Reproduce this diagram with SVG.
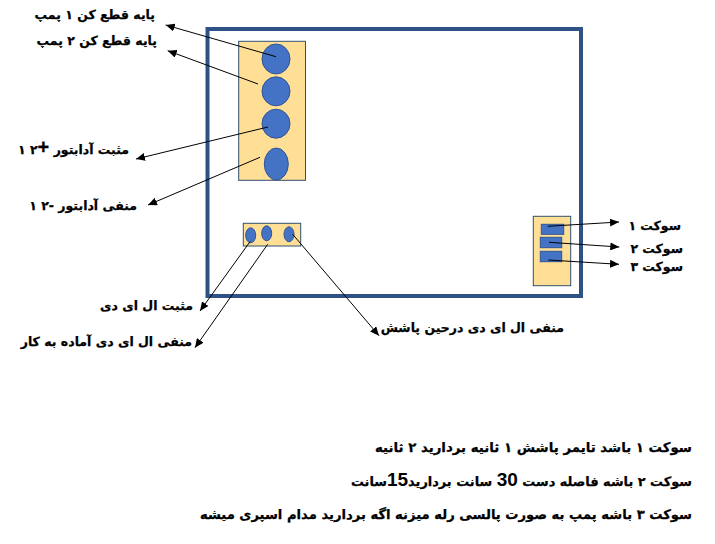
<svg xmlns="http://www.w3.org/2000/svg" width="715" height="544" viewBox="0 0 715 544">
<style>
.p{fill:#ffdf95;stroke:#2f5070;stroke-width:1}
.d{fill:#4472c4;stroke:#2f5597;stroke-width:1}
.c{fill:none;stroke:#000;stroke-width:1;marker-end:url(#a)}
text{font-family:"DejaVu Sans","Liberation Sans",sans-serif;font-weight:700;font-size:12.5px;fill:#000;stroke:#000;stroke-width:.25;direction:rtl;text-anchor:start}
.n{font-family:"Liberation Sans",sans-serif;font-size:19px;stroke:none}
.s{font-family:"Liberation Sans",sans-serif;font-size:20px}
</style>
<defs><marker id="a" markerUnits="userSpaceOnUse" markerWidth="10" markerHeight="8" refX="9" refY="4" orient="auto"><path d="M0 0L9 4L0 8z" fill="#000"/></marker></defs>
<rect width="715" height="544" fill="#fff"/>
<g id="frame"><rect x="207.5" y="29" width="373.5" height="267" fill="none" stroke="#2f5286" stroke-width="4"/></g>
<g id="pump-panel">
<rect class="p" x="238.7" y="41.3" width="66.8" height="139"/>
<ellipse class="d" cx="276" cy="59" rx="14" ry="15"/>
<ellipse class="d" cx="276" cy="91.3" rx="14" ry="14.5"/>
<ellipse class="d" cx="276" cy="123.7" rx="14" ry="14.5"/>
<ellipse class="d" cx="276.3" cy="164" rx="12" ry="16"/>
</g>
<g id="led-panel">
<rect class="p" x="243.3" y="223.3" width="57.4" height="22.7"/>
<ellipse class="d" cx="250.7" cy="235.3" rx="5" ry="7.5"/>
<ellipse class="d" cx="266.7" cy="233.3" rx="5" ry="7.5"/>
<ellipse class="d" cx="289" cy="234.3" rx="5" ry="7.5"/>
</g>
<g id="socket-panel">
<rect class="p" x="533.3" y="216.3" width="37.4" height="69.4"/>
<rect class="d" x="541.3" y="224.3" width="22.4" height="10"/>
<rect class="d" x="540.3" y="237.3" width="21.4" height="10.4"/>
<rect class="d" x="540.3" y="251.3" width="21.4" height="10.4"/>
</g>
<g id="connectors">
<line class="c" x1="276" y1="56.7" x2="165.7" y2="25"/>
<line class="c" x1="258" y1="84" x2="167.7" y2="50.7"/>
<line class="c" x1="268" y1="127" x2="136" y2="159"/>
<line class="c" x1="260" y1="157.3" x2="148" y2="205"/>
<line class="c" x1="250" y1="241.7" x2="200" y2="311"/>
<line class="c" x1="267.7" y1="244.3" x2="195" y2="347.7"/>
<line class="c" x1="292.7" y1="234.3" x2="379" y2="335.7"/>
<line class="c" x1="547.7" y1="226.3" x2="619" y2="222"/>
<line class="c" x1="549" y1="242.3" x2="619.3" y2="247"/>
<line class="c" x1="548.3" y1="260" x2="619" y2="264.3"/>
</g>
<g id="labels">
<text x="155" y="19">پایه قطع کن ۱ پمپ</text>
<text x="157" y="45">پایه قطع کن ۲ پمپ</text>
<text x="129" y="154">مثبت آدابتور <tspan class="s">+</tspan>&#x2066;۱ ۲&#x2069;</text>
<text x="137" y="210">منفی آدابتور -&#x2066;۱ ۲&#x2069;</text>
<text x="193" y="310">مثبت ال ای دی</text>
<text x="192" y="346">منفی ال ای دی آماده به کار</text>
<text x="564" y="332">منفی ال ای دی درحین پاشش</text>
<text x="681" y="230">سوکت ۱</text>
<text x="683" y="253">سوکت ۲</text>
<text x="683" y="271">سوکت ۳</text>
<text style="font-size:13.35px" x="692" y="452">سوکت ۱ باشد تایمر پاشش ۱ ثانیه بردارید ۲ ثانیه</text>
<text style="font-size:12.9px" x="692" y="486">سوکت ۲ باشه فاصله دست <tspan class="n">30</tspan> سانت بردارید<tspan class="n">15</tspan>سانت</text>
<text style="font-size:13.15px" x="692" y="519">سوکت ۳  باشه پمپ به صورت پالسی رله میزنه اگه بردارید مدام اسپری میشه</text>
</g>
</svg>
